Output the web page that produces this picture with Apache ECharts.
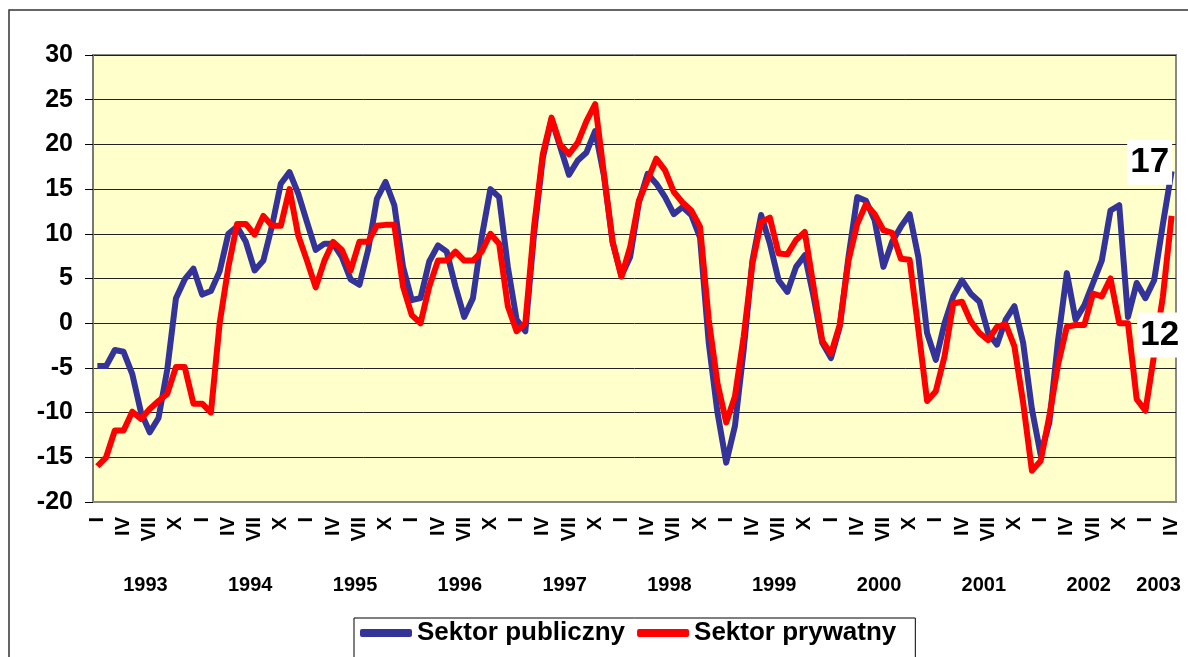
<!DOCTYPE html>
<html>
<head>
<meta charset="utf-8">
<script src="https://cdn.jsdelivr.net/npm/echarts@6/dist/echarts.min.js"></script>
<style>
    html, body { margin: 0; padding: 0; background: #fff; }
    #chart-panel { width: 1188px; height: 657px; }
</style>
</head>
<body>
<div id="chart-panel"></div>
<script>
/* lata na osi X (2003 tylko do kwietnia). */
const years = ['1993', '1994', '1995', '1996', '1997', '1998', '1999', '2000', '2001', '2002', '2003']
const monthsInYear = [12, 12, 12, 12, 12, 12, 12, 12, 12, 12, 4]

/* etykiety miesięcy co kwartał. */
const monthTicks = ['I', '', '', 'IV', '', '', 'VII', '', '', 'X', '', '']

const seriesNames = ['Sektor publiczny', 'Sektor prywatny']

const sektorPubliczny = [
    -4.8, -4.8, -3.0, -3.2, -5.7, -10.0, -12.2, -10.6, -5.2, 2.8, 4.9, 6.1,
    3.2, 3.6, 5.8, 10.0, 10.8, 9.1, 5.9, 7.0, 10.9, 15.6, 16.9, 14.5,
    11.3, 8.2, 8.9, 8.9, 7.4, 4.9, 4.3, 8.2, 13.9, 15.8, 13.2, 6.3,
    2.6, 2.8, 6.9, 8.7, 8.0, 4.1, 0.7, 2.8, 9.6, 15.0, 14.1, 6.3,
    0.4, -0.9, 10.0, 18.5, 22.8, 19.7, 16.6, 18.2, 19.1, 21.5, 16.5, 9.0,
    5.3, 7.4, 13.5, 16.7, 15.6, 14.1, 12.2, 13.0, 12.1, 9.6, -2.2, -10.0,
    -15.6, -11.5, -3.0, 7.0, 12.1, 8.9, 4.8, 3.5, 6.3, 7.6, 3.0, -2.2,
    -3.9, -0.4, 7.4, 14.1, 13.7, 11.5, 6.3, 9.1, 10.8, 12.2, 7.4, -1.1,
    -4.1, 0.0, 3.0, 4.8, 3.3, 2.4, -1.1, -2.4, 0.4, 1.9, -2.2, -9.6,
    -14.7, -11.1, -1.9, 5.6, 0.4, 2.0, 4.5, 7.0, 12.6, 13.2, 0.7, 4.5,
    2.8, 4.8, 11.1, 17
]

const sektorPrywatny = [
    -16.0, -15.0, -12.0, -12.0, -9.9, -10.7, -9.6, -8.7, -7.9, -4.9, -4.9, -9.0,
    -9.0, -10.0, 0.0, 6.3, 11.1, 11.1, 9.9, 12.0, 10.9, 10.9, 15.0, 9.8,
    7.0, 4.0, 7.0, 9.1, 8.2, 5.9, 9.1, 9.1, 10.9, 11.0, 11.0, 4.1,
    0.9, 0.0, 4.1, 7.0, 7.0, 8.0, 7.0, 7.0, 8.0, 10.0, 8.9, 1.9,
    -0.9, 0.0, 10.8, 18.9, 23.0, 20.0, 18.9, 20.2, 22.6, 24.5, 16.7, 9.1,
    5.2, 8.5, 13.7, 16.0, 18.4, 17.1, 14.7, 13.5, 12.6, 10.8, 0.4, -6.7,
    -11.1, -8.2, -1.5, 6.7, 11.3, 11.8, 7.8, 7.7, 9.3, 10.2, 4.1, -2.0,
    -3.4, -0.2, 7.0, 11.1, 13.3, 12.2, 10.4, 10.1, 7.2, 7.1, -0.7, -8.7,
    -7.6, -3.7, 2.2, 2.4, 0.2, -1.1, -1.9, -0.4, -0.1, -2.6, -8.9, -16.5,
    -15.4, -10.4, -4.6, -0.4, -0.2, -0.2, 3.3, 3.0, 5.0, 0.0, 0.0, -8.5,
    -9.8, -3.5, 3.0, 12
]

const colors = ['#333399', '#FF0000']
const fontFamily = '"Liberation Sans", Arial, sans-serif'

/* kategorie miesięczne i etykiety lat (środek każdego roku). */
let monthCats = []
let yearCats = []
years.map((y, k) => {
    for (let m = 0; m < monthsInYear[k]; m++) {
        monthCats.push(monthTicks[m])
    }
})
for (let j = 0; j <= monthCats.length; j++) yearCats.push('')
let start = 0
years.map((y, k) => {
    yearCats[start + monthsInYear[k] / 2] = y
    start += monthsInYear[k]
})

const last = monthCats.length - 1

/* etykieta wartości końcowej w białej ramce. */
function endLabel(series, offset) {
    return {
        symbol: 'rect',
        symbolSize: 1,
        itemStyle: { color: 'rgba(0,0,0,0)' },
        data: [{ coord: [last, series[last]] }],
        label: {
            show: true,
            position: 'inside',
            offset: offset,
            formatter: String(series[last]),
            fontSize: 35,
            fontWeight: 'bold',
            color: '#000',
            backgroundColor: '#fff',
            padding: [6, 3, 4, 3]
        }
    }
}

let myChart = echarts.init(document.getElementById('chart-panel'))
myChart.setOption({
    animation: false,
    textStyle: { fontFamily: fontFamily },
    graphic: [{
        type: 'rect',
        shape: { x: 9, y: 10, width: 1300, height: 700 },
        style: { fill: 'none', stroke: '#333', lineWidth: 1.5 },
        silent: true,
        z: -10
    }],
    grid: {
        left: 93, right: 12, top: 55, bottom: 155,
        show: true,
        backgroundColor: '#FFFFCC',
        borderColor: '#888',
        borderWidth: 2
    },
    legend: {
        data: seriesNames,
        left: 354,
        top: 618,
        icon: 'roundRect',
        itemWidth: 52,
        itemHeight: 8,
        itemGap: 12,
        padding: [2, 19, 12, 6],
        borderColor: '#000',
        borderWidth: 1,
        backgroundColor: '#fff',
        textStyle: { fontSize: 26, fontWeight: 'bold', color: '#000', fontFamily: fontFamily }
    },
    xAxis: [{
        type: 'category',
        data: monthCats,
        boundaryGap: true,
        axisLine: { onZero: false, lineStyle: { color: '#888', width: 2 } },
        axisTick: { show: false },
        axisLabel: {
            interval: 0,
            rotate: 90,
            margin: 15,
            fontSize: 20,
            fontWeight: 'bold',
            color: '#000'
        }
    }, {
        type: 'category',
        data: yearCats,
        boundaryGap: false,
        position: 'bottom',
        offset: 65,
        axisLine: { show: false },
        axisTick: { show: false },
        axisLabel: {
            interval: 0,
            margin: 8,
            fontSize: 20,
            fontWeight: 'bold',
            color: '#000'
        }
    }],
    yAxis: {
        type: 'value',
        min: -20,
        max: 30,
        interval: 5,
        axisLine: { show: true, lineStyle: { color: '#777', width: 2 } },
        axisTick: { show: true, length: 8, lineStyle: { color: '#000' } },
        splitLine: { lineStyle: { color: '#222', width: 1 } },
        axisLabel: {
            margin: 20,
            fontSize: 25,
            fontWeight: 'bold',
            color: '#000'
        }
    },
    series: [{
        name: seriesNames[0],
        type: 'line',
        data: sektorPubliczny,
        showSymbol: false,
        symbol: 'none',
        color: colors[0],
        lineStyle: { width: 6, color: colors[0], join: 'round' },
        markPoint: endLabel(sektorPubliczny, [-22, -9])
    }, {
        name: seriesNames[1],
        type: 'line',
        data: sektorPrywatny,
        showSymbol: false,
        symbol: 'none',
        color: colors[1],
        lineStyle: { width: 6, color: colors[1], join: 'round' },
        markPoint: endLabel(sektorPrywatny, [-12, 119])
    }]
})
</script>
</body>
</html>
